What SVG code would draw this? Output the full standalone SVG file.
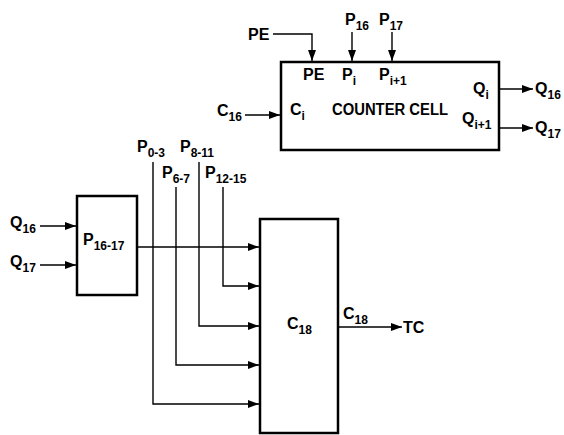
<svg xmlns="http://www.w3.org/2000/svg" width="564" height="435" viewBox="0 0 564 435">
<defs>
<marker id="ah" markerUnits="userSpaceOnUse" markerWidth="12" markerHeight="10" refX="11" refY="4" orient="auto">
<path d="M0,0 L11,4 L0,8 Z" fill="#000"/>
</marker>
<style>
text{font-family:"Liberation Sans",Arial,sans-serif;font-weight:bold;font-size:16px;fill:#000}
.s{font-size:12px}
.box{fill:#fff;stroke:#000;stroke-width:2.5}
.w{fill:none;stroke:#000;stroke-width:1.4}
</style>
</defs>
<rect width="564" height="435" fill="#fff"/>
<g id="counter-cell">
<rect class="box" x="281" y="62" width="218" height="88"/>
<text x="303" y="80">PE</text>
<text x="342" y="80">P<tspan class="s" dy="5">i</tspan></text>
<text x="379" y="80">P<tspan class="s" dy="5">i+1</tspan></text>
<text x="290" y="115">C<tspan class="s" dy="5">i</tspan></text>
<text x="332" y="115" textLength="116" lengthAdjust="spacingAndGlyphs">COUNTER CELL</text>
<text x="473" y="94">Q<tspan class="s" dy="5">i</tspan></text>
<text x="462" y="124">Q<tspan class="s" dy="5">i+1</tspan></text>
</g>
<g id="p16-17">
<rect class="box" x="77" y="196" width="60" height="99"/>
<text x="83" y="245">P<tspan class="s" dy="5">16-17</tspan></text>
</g>
<g id="c18">
<rect class="box" x="260" y="219" width="78" height="214"/>
<text x="287" y="329">C<tspan class="s" dy="5">18</tspan></text>
</g>
<g id="labels">
<text x="248" y="40">PE</text>
<text x="345" y="25">P<tspan class="s" dy="5">16</tspan></text>
<text x="379" y="25">P<tspan class="s" dy="5">17</tspan></text>
<text x="217" y="116">C<tspan class="s" dy="5">16</tspan></text>
<text x="535" y="94">Q<tspan class="s" dy="5">16</tspan></text>
<text x="535" y="133">Q<tspan class="s" dy="5">17</tspan></text>
<text x="10" y="228">Q<tspan class="s" dy="5">16</tspan></text>
<text x="10" y="267">Q<tspan class="s" dy="5">17</tspan></text>
<text x="137" y="152">P<tspan class="s" dy="5">0-3</tspan></text>
<text x="180" y="152">P<tspan class="s" dy="5">8-11</tspan></text>
<text x="162" y="178">P<tspan class="s" dy="5">6-7</tspan></text>
<text x="205" y="178">P<tspan class="s" dy="5">12-15</tspan></text>
<text x="343" y="319">C<tspan class="s" dy="5">18</tspan></text>
<text x="403" y="333">TC</text>
</g>
<g id="connectors">
<path class="w" d="M273,34 H312 V61" marker-end="url(#ah)"/>
<path class="w" d="M352,32 V61" marker-end="url(#ah)"/>
<path class="w" d="M392,32 V61" marker-end="url(#ah)"/>
<path class="w" d="M245,115 H280" marker-end="url(#ah)"/>
<path class="w" d="M499,89 H533" marker-end="url(#ah)"/>
<path class="w" d="M499,128 H533" marker-end="url(#ah)"/>
<path class="w" d="M40,226 H76" marker-end="url(#ah)"/>
<path class="w" d="M40,265 H76" marker-end="url(#ah)"/>
<path class="w" d="M137,247 H259" marker-end="url(#ah)"/>
<path class="w" d="M223,187 V286 H259" marker-end="url(#ah)"/>
<path class="w" d="M199,162 V326 H259" marker-end="url(#ah)"/>
<path class="w" d="M176,187 V365 H259" marker-end="url(#ah)"/>
<path class="w" d="M153,162 V404 H259" marker-end="url(#ah)"/>
<path class="w" d="M338,327 H402" marker-end="url(#ah)"/>
</g>
</svg>
